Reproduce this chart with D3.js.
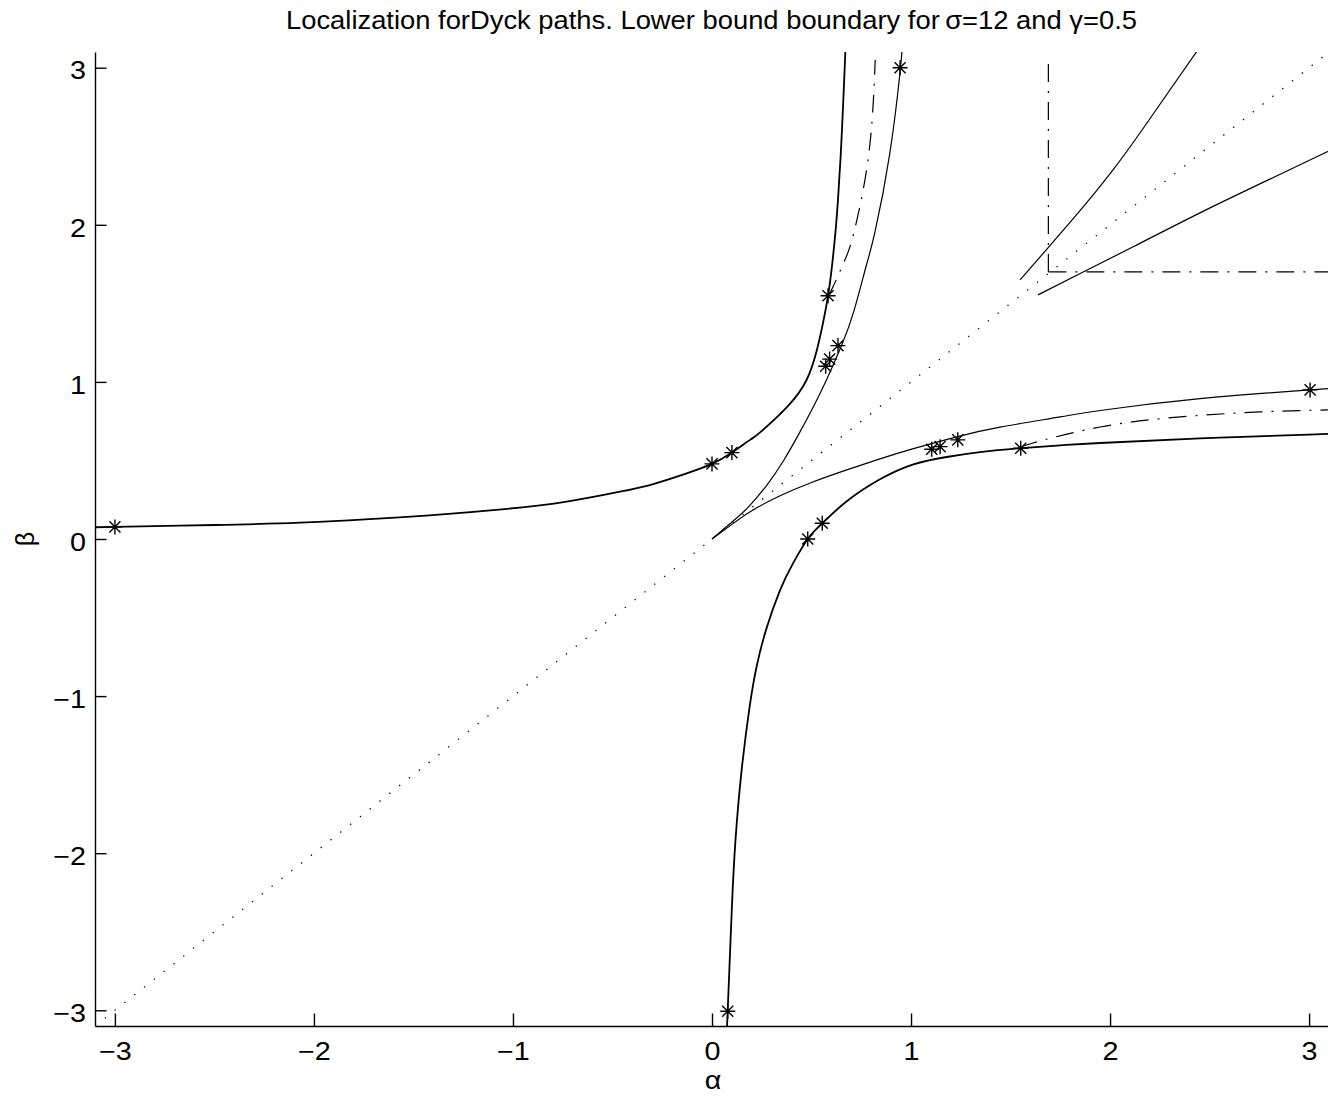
<!DOCTYPE html>
<html>
<head>
<meta charset="utf-8">
<script src="https://cdn.jsdelivr.net/npm/d3@7"></script>
<style>
  html, body { margin: 0; padding: 0; background: #fff; }
  svg { display: block; }
  text { font-family: "Liberation Sans", Arial, Helvetica, sans-serif; fill: #000; }
</style>
</head>
<body>
<svg id="chart" width="1328" height="1096"></svg>
<script>
// ---- data (alpha, beta) ----
const xTicks = [-3, -2, -1, 0, 1, 2, 3];
const yTicks = [-3, -2, -1, 0, 1, 2, 3];

// outer boundary, upper-left branch
const outerUpAlpha = [-3.1, -3.0, -2.5, -2.07, -1.57, -1.07, -0.73, -0.462, -0.295, -0.127, 0, 0.1, 0.191, 0.24, 0.38, 0.475, 0.522, 0.553, 0.583, 0.604, 0.62, 0.633, 0.647, 0.66, 0.67];
const outerUpBeta  = [0.075, 0.077, 0.089, 0.104, 0.138, 0.187, 0.238, 0.301, 0.35, 0.418, 0.478, 0.55, 0.631, 0.677, 0.844, 1.012, 1.179, 1.347, 1.548, 1.75, 1.95, 2.16, 2.45, 2.8, 3.1];

// outer boundary, lower-right branch
const outerLowAlpha = [0.074, 0.079, 0.1, 0.118, 0.147, 0.189, 0.224, 0.271, 0.342, 0.407, 0.481, 0.554, 0.677, 0.844, 1.012, 1.179, 1.347, 1.551, 1.749, 1.95, 2.452, 3.0, 3.1];
const outerLowBeta  = [-3.1, -3.0, -2.342, -1.917, -1.493, -1.068, -0.813, -0.58, -0.325, -0.155, 0, 0.1, 0.24, 0.38, 0.475, 0.522, 0.553, 0.578, 0.596, 0.611, 0.641, 0.665, 0.669];

// inner boundary from the origin, upper branch
const innerUpAlpha = [0, 0.093, 0.18, 0.275, 0.36, 0.44, 0.51, 0.575, 0.652, 0.712, 0.777, 0.818, 0.893, 0.947, 0.952];
const innerUpBeta  = [0, 0.1, 0.2, 0.342, 0.5, 0.677, 0.844, 1.012, 1.235, 1.447, 1.749, 1.95, 2.452, 3.0, 3.1];

// inner boundary from the origin, lower branch
const innerLowAlpha = [0, 0.1, 0.2, 0.342, 0.5, 0.677, 0.844, 1.012, 1.235, 1.447, 1.749, 1.95, 2.452, 3.005, 3.1];
const innerLowBeta  = [0, 0.093, 0.18, 0.275, 0.36, 0.44, 0.51, 0.575, 0.652, 0.712, 0.777, 0.818, 0.893, 0.949, 0.957];

// dash-dot boundaries
const dashUpAlpha  = [0.583, 0.608, 0.668, 0.713, 0.777, 0.809, 0.82];
const dashUpBeta   = [1.548, 1.605, 1.777, 1.95, 2.352, 2.754, 3.05];
const dashLowAlpha = [1.551, 1.613, 1.95, 2.352, 2.754, 3.1];
const dashLowBeta  = [0.578, 0.611, 0.713, 0.777, 0.809, 0.822];

// corner region lines
const cornerUpAlpha  = [1.548, 1.688, 1.866, 2.015, 2.151, 2.436];
const cornerUpBeta   = [1.65, 1.853, 2.115, 2.35, 2.586, 3.104];
const cornerLowAlpha = [1.638, 1.85, 2.116, 2.452, 2.8, 3.1];
const cornerLowBeta  = [1.554, 1.69, 1.86, 2.076, 2.289, 2.47];

// dash-dot quadrant edges
const vEdgeAlpha = [1.69, 1.69];
const vEdgeBeta  = [1.70, 3.05];
const hEdgeAlpha = [1.69, 3.1];
const hEdgeBeta  = [1.70, 1.70];

// diagonal alpha = beta
const diagAlpha = [-3.1, 3.1];
const diagBeta  = [-3.1, 3.1];

// marked points
const starAlpha = [-3.0, 0.0, 0.1, 0.583, 0.571, 0.591, 0.633, 0.945, 0.079, 0.481, 0.554, 1.104, 1.146, 1.235, 1.551, 3.005];
const starBeta  = [0.077, 0.478, 0.55, 1.548, 1.10, 1.145, 1.231, 3.0, -3.006, 0, 0.1, 0.571, 0.588, 0.631, 0.578, 0.949];

// ---- layout ----
const svg = d3.select("#chart");
const plotLeft = 95, plotRight = 1329, plotTop = 52, plotBottom = 1026;

const x = d3.scaleLinear().domain([-3.1, 3.1]).range([plotLeft, plotRight]);
const y = d3.scaleLinear().domain([-3.1, 3.1]).range([plotBottom, plotTop]);

svg.append("defs").append("clipPath").attr("id", "plotClip")
  .append("rect").attr("x", plotLeft).attr("y", plotTop)
  .attr("width", plotRight - plotLeft).attr("height", plotBottom - plotTop);

const plot = svg.append("g").attr("clip-path", "url(#plotClip)");

const line = d3.line()
  .x(d => x(d[0])).y(d => y(d[1]))
  .curve(d3.curveNatural);

function draw(a, b, width, dash) {
  plot.append("path")
    .datum(d3.zip(a, b))
    .attr("d", line)
    .attr("fill", "none")
    .attr("stroke", "#000")
    .attr("stroke-width", width)
    .attr("stroke-dasharray", dash || null);
}

const dotted = "1.3,11.2";
const dashDot = "18,9,2,9";

draw(diagAlpha, diagBeta, 1.3, dotted);
draw(outerUpAlpha, outerUpBeta, 1.8);
draw(outerLowAlpha, outerLowBeta, 1.8);
draw(innerUpAlpha, innerUpBeta, 1.2);
draw(innerLowAlpha, innerLowBeta, 1.2);
draw(dashUpAlpha, dashUpBeta, 1.2, dashDot);
draw(dashLowAlpha, dashLowBeta, 1.2, dashDot);
draw(cornerUpAlpha, cornerUpBeta, 1.2);
draw(cornerLowAlpha, cornerLowBeta, 1.2);
draw(vEdgeAlpha, vEdgeBeta, 1.2, dashDot);
draw(hEdgeAlpha, hEdgeBeta, 1.2, dashDot);

// asterisk marker: plus and cross overlaid
const asterisk = {
  draw(ctx, size) {
    const r = Math.sqrt(size) / 2;
    const d = r * 0.74;
    ctx.moveTo(-r, 0); ctx.lineTo(r, 0);
    ctx.moveTo(0, -r); ctx.lineTo(0, r);
    ctx.moveTo(-d, -d); ctx.lineTo(d, d);
    ctx.moveTo(-d, d); ctx.lineTo(d, -d);
  }
};
const starSym = d3.symbol().type(asterisk).size(15 * 15);

plot.selectAll("path.star")
  .data(d3.zip(starAlpha, starBeta))
  .join("path")
  .attr("class", "star")
  .attr("transform", d => `translate(${x(d[0])},${y(d[1])})`)
  .attr("d", starSym)
  .attr("fill", "none")
  .attr("stroke", "#000")
  .attr("stroke-width", 1.4);

// ---- axes ----
const fontSize = 25;
const stretch = 1.15;   // wide glyph proportions of the labels
const fmt = d3.format("d");

const xAxis = svg.append("g")
  .attr("transform", `translate(0,${plotBottom})`)
  .call(d3.axisBottom(x).tickValues(xTicks).tickFormat(fmt)
    .tickSize(-12.5).tickSizeOuter(0).tickPadding(16));

const yAxis = svg.append("g")
  .attr("transform", `translate(${plotLeft},0)`)
  .call(d3.axisLeft(y).tickValues(yTicks).tickFormat(fmt)
    .tickSize(-11.5).tickSizeOuter(0).tickPadding(9));

[xAxis, yAxis].forEach(g => {
  g.attr("font-family", null).attr("font-size", null);
  g.select(".domain").attr("stroke", "#000").attr("stroke-width", 1.4);
  g.selectAll(".tick line").attr("stroke", "#000").attr("stroke-width", 1.4);
  g.selectAll(".tick text")
    .style("font-size", fontSize + "px")
    .attr("fill", "#000")
    .attr("transform", `scale(${stretch},1)`);
});
yAxis.selectAll(".tick text")
  .attr("x", -9 / stretch)
  .attr("dy", "0.45em");

// ---- titles ----
svg.append("text")
  .attr("x", 711.5)
  .attr("y", 29)
  .attr("text-anchor", "middle")
  .attr("textLength", 851)
  .attr("lengthAdjust", "spacingAndGlyphs")
  .style("font-size", fontSize + "px")
  .text("Localization forDyck paths. Lower bound boundary for\u2009σ=12 and γ=0.5");

svg.append("text")
  .attr("transform", `translate(713,1089) scale(${stretch},1)`)
  .attr("text-anchor", "middle")
  .style("font-size", fontSize + "px")
  .text("α");

svg.append("text")
  .attr("transform", "translate(34,539) rotate(-90)")
  .attr("text-anchor", "middle")
  .style("font-size", fontSize + "px")
  .text("β");
</script>
</body>
</html>
